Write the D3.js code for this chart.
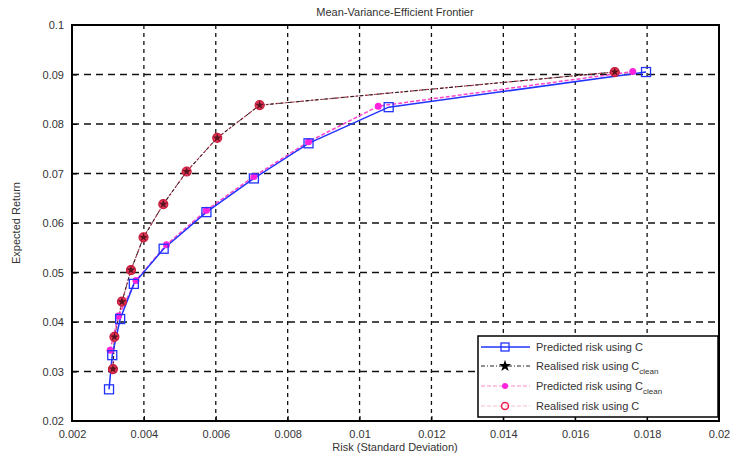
<!DOCTYPE html>
<html>
<head>
<meta charset="utf-8">
<script src="https://cdn.jsdelivr.net/npm/d3@7"></script>
<style>
  body { margin: 0; background: #fff; }
  text { font-family: "Liberation Sans", Arial, sans-serif; fill: #333; }
</style>
</head>
<body>
<div id="chart"></div>
<script>
// Chart values
var xTicks = [0.002, 0.004, 0.006, 0.008, 0.010, 0.012, 0.014, 0.016, 0.018, 0.020];
var xTickLabels = ["0.002", "0.004", "0.006", "0.008", "0.01", "0.012", "0.014", "0.016", "0.018", "0.02"];
var yTicks = [0.02, 0.03, 0.04, 0.05, 0.06, 0.07, 0.08, 0.09, 0.1];
var yTickLabels = ["0.02", "0.03", "0.04", "0.05", "0.06", "0.07", "0.08", "0.09", "0.1"];

// Predicted risk using C (blue squares)
var predC_risk = [0.00303, 0.00312, 0.00334, 0.00372, 0.00455, 0.00574, 0.00706, 0.00858, 0.01081, 0.01797];
var predC_ret = [0.0264, 0.0333, 0.0406, 0.0477, 0.0548, 0.0622, 0.0690, 0.0761, 0.0834, 0.0905];

// Realised risk using C_clean (black stars)
var realClean_risk = [0.00314, 0.00318, 0.00339, 0.00364, 0.00399, 0.00454, 0.00519, 0.00604, 0.00722, 0.01710];
var realClean_ret = [0.0305, 0.0370, 0.0441, 0.0505, 0.0571, 0.0638, 0.0704, 0.0772, 0.0838, 0.0905];

// Predicted risk using C_clean (magenta dots)
var predClean_risk = [0.00306, 0.00329, 0.00378, 0.00463, 0.00574, 0.00706, 0.00858, 0.01052, 0.01760];
var predClean_ret = [0.0343, 0.0412, 0.0484, 0.0556, 0.0626, 0.0694, 0.0764, 0.0836, 0.0906];

// Realised risk using C (red circles)
var realC_risk = [0.00314, 0.00318, 0.00339, 0.00364, 0.00399, 0.00454, 0.00519, 0.00604, 0.00722, 0.01710];
var realC_ret = [0.0305, 0.0370, 0.0441, 0.0505, 0.0571, 0.0638, 0.0704, 0.0772, 0.0838, 0.0905];

var svgWidth = 730;
var svgHeight = 457;

var svg = d3.select("#chart")
  .append("svg")
  .attr("width", svgWidth)
  .attr("height", svgHeight);

// Plot box
var plotLeft = 72, plotRight = 719, plotTop = 25, plotBottom = 421;

var x = d3.scaleLinear().domain([0.002, 0.02]).range([plotLeft, plotRight]);
var y = d3.scaleLinear().domain([0.02, 0.1]).range([plotBottom, plotTop]);

// Dashed grid
var grid = svg.append("g");
grid.selectAll(".vg")
  .data(xTicks.slice(1, -1))
  .enter().append("line")
  .attr("x1", d => x(d)).attr("x2", d => x(d))
  .attr("y1", plotTop).attr("y2", plotBottom)
  .attr("stroke", "#111").attr("stroke-width", 1.3)
  .attr("stroke-dasharray", "4,4");
grid.selectAll(".hg")
  .data(yTicks.slice(1, -1))
  .enter().append("line")
  .attr("y1", d => y(d)).attr("y2", d => y(d))
  .attr("x1", plotLeft).attr("x2", plotRight)
  .attr("stroke", "#111").attr("stroke-width", 1.3)
  .attr("stroke-dasharray", "7,5");

// Axes with ticks inside
var xAxis = d3.axisBottom(x).tickValues(xTicks)
  .tickFormat((d, i) => xTickLabels[i]).tickSizeInner(-5).tickSizeOuter(0).tickPadding(9);
var yAxis = d3.axisLeft(y).tickValues(yTicks)
  .tickFormat((d, i) => yTickLabels[i]).tickSizeInner(-5).tickSizeOuter(0).tickPadding(8);

var gx = svg.append("g").attr("transform", `translate(0, ${plotBottom})`).call(xAxis);
var gy = svg.append("g").attr("transform", `translate(${plotLeft}, 0)`).call(yAxis);
[gx, gy].forEach(function(g) {
  g.select(".domain").remove();
  g.selectAll("line").attr("stroke", "#000");
  g.selectAll("text").attr("font-size", 11).attr("fill", "#555")
    .style("font-family", "'Liberation Sans', Arial, sans-serif");
});

// Box
svg.append("rect")
  .attr("x", plotLeft).attr("y", plotTop)
  .attr("width", plotRight - plotLeft).attr("height", plotBottom - plotTop)
  .attr("fill", "none").attr("stroke", "#000").attr("stroke-width", 2);

function pts(xs, ys) { return xs.map((v, i) => [x(v), y(ys[i])]); }
var line = d3.line();

// Realised risk using C (red dashed line + circles)
var realCPts = pts(realC_risk, realC_ret);
svg.append("path").attr("d", line(realCPts))
  .attr("fill", "none").attr("stroke", "#c0304a").attr("stroke-width", 1.2)
  .attr("stroke-dasharray", "3,2");

// Realised risk using C_clean (black dash-dot line)
var realCleanPts = pts(realClean_risk, realClean_ret);
svg.append("path").attr("d", line(realCleanPts))
  .attr("fill", "none").attr("stroke", "#222").attr("stroke-width", 1)
  .attr("stroke-dasharray", "4,2,1,2");

// Predicted risk using C_clean (magenta dashed line)
var predCleanPts = pts(predClean_risk, predClean_ret);
svg.append("path").attr("d", line(predCleanPts))
  .attr("fill", "none").attr("stroke", "#ff44cc").attr("stroke-width", 1.5)
  .attr("stroke-dasharray", "4,2");

// Predicted risk using C (blue solid)
var predCPts = pts(predC_risk, predC_ret);
svg.append("path").attr("d", line(predCPts))
  .attr("fill", "none").attr("stroke", "#2233ff").attr("stroke-width", 1.5);

// Markers
svg.selectAll(".magdot").data(predCleanPts).enter().append("circle")
  .attr("cx", d => d[0]).attr("cy", d => d[1]).attr("r", 3.5)
  .attr("fill", "#ff22dd");

svg.selectAll(".sq").data(predCPts).enter().append("rect")
  .attr("x", d => d[0] - 4.5).attr("y", d => d[1] - 4.5)
  .attr("width", 9).attr("height", 9)
  .attr("fill", "none").attr("stroke", "#2233ff").attr("stroke-width", 1.3);

svg.selectAll(".rc").data(realCPts).enter().append("circle")
  .attr("cx", d => d[0]).attr("cy", d => d[1]).attr("r", 4.5)
  .attr("fill", "#e23454").attr("stroke", "#cc1c3c").attr("stroke-width", 1.2);

var star = d3.symbol().type(d3.symbolStar).size(24);
svg.selectAll(".st").data(realCleanPts).enter().append("path")
  .attr("d", star)
  .attr("transform", d => `translate(${d[0]}, ${d[1]})`)
  .attr("fill", "#5a1420");

// Title and axis labels
svg.append("text").attr("x", 395).attr("y", 16)
  .attr("text-anchor", "middle").attr("font-size", 11)
  .text("Mean-Variance-Efficient Frontier");
svg.append("text").attr("x", 395).attr("y", 451)
  .attr("text-anchor", "middle").attr("font-size", 11)
  .text("Risk (Standard Deviation)");
svg.append("text")
  .attr("transform", "translate(20, 223) rotate(-90)")
  .attr("text-anchor", "middle").attr("font-size", 11)
  .text("Expected Return");

// Legend
var lg = svg.append("g");
lg.append("rect")
  .attr("x", 478).attr("y", 336).attr("width", 240).attr("height", 81)
  .attr("fill", "#fff").attr("stroke", "#000").attr("stroke-width", 1.5);

var legendRows = [
  { y: 347, label: "Predicted risk using C", sub: "" },
  { y: 366, label: "Realised risk using C", sub: "clean" },
  { y: 386, label: "Predicted risk using C", sub: "clean" },
  { y: 406, label: "Realised risk using C", sub: "" }
];

// row sample lines
lg.append("line").attr("x1", 481).attr("x2", 530).attr("y1", 347).attr("y2", 347)
  .attr("stroke", "#2233ff").attr("stroke-width", 1.5);
lg.append("rect").attr("x", 501).attr("y", 343).attr("width", 8).attr("height", 8)
  .attr("fill", "none").attr("stroke", "#2233ff").attr("stroke-width", 1.3);

lg.append("line").attr("x1", 481).attr("x2", 530).attr("y1", 366).attr("y2", 366)
  .attr("stroke", "#222").attr("stroke-width", 1).attr("stroke-dasharray", "4,2,1,2");
lg.append("path").attr("d", d3.symbol().type(d3.symbolStar).size(45))
  .attr("transform", "translate(505, 366)").attr("fill", "#000");

lg.append("line").attr("x1", 481).attr("x2", 530).attr("y1", 386).attr("y2", 386)
  .attr("stroke", "#ff88cc").attr("stroke-width", 1.2).attr("stroke-dasharray", "4,2");
lg.append("circle").attr("cx", 505).attr("cy", 386).attr("r", 3)
  .attr("fill", "#ff22dd");

lg.append("line").attr("x1", 481).attr("x2", 530).attr("y1", 406).attr("y2", 406)
  .attr("stroke", "#f4c0d0").attr("stroke-width", 1.2).attr("stroke-dasharray", "4,2");
lg.append("circle").attr("cx", 505).attr("cy", 406).attr("r", 3.5)
  .attr("fill", "none").attr("stroke", "#ee2050").attr("stroke-width", 1.5);

legendRows.forEach(function(r) {
  var t = lg.append("text").attr("x", 536).attr("y", r.y + 4).attr("font-size", 11)
    .text(r.label);
  if (r.sub) {
    t.append("tspan").attr("font-size", 8).attr("dy", 4).text(r.sub);
  }
});
</script>
</body>
</html>
